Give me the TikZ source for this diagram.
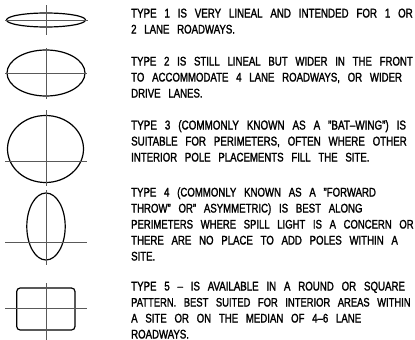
\documentclass[tikz,border=0pt]{standalone}
\usepackage{fontspec}
\setmainfont{Liberation Sans}[FakeStretch=0.77,WordSpace=2.9,FakeBold=1.6]
\begin{document}
\begin{tikzpicture}[x=1pt,y=-1pt,
  shp/.style={line width=1.2pt, black},
  axis/.style={line width=0.7pt, black!65},
  txt/.style={anchor=base west, inner sep=0pt, font=\fontsize{#1}{14}\selectfont},
  txt/.default=12.5]
\useasboundingbox (0,0) rectangle (415,340);
% Type 1
\draw[shp] (46,20) ellipse [x radius=39.5, y radius=7];
\draw[axis] (5,20) -- (88,20);
\draw[axis] (46,5) -- (46,35);
% Type 2
\draw[shp] (46,73) ellipse [x radius=39, y radius=23];
\draw[axis] (5,73) -- (87,73);
\draw[axis] (46,48) -- (46,99);
% Type 3
\draw[shp] (45.5,149) ellipse [x radius=38, y radius=33.5];
\draw[axis] (5,161.5) -- (87,161.5);
\draw[axis] (46,110) -- (46,186);
% Type 4
\draw[shp] (46,226.5) ellipse [x radius=19.2, y radius=33.5];
\draw[axis] (5,242.3) -- (87,242.3);
\draw[axis] (46,190) -- (46,265);
% Type 5
\draw[shp, rounded corners=3.5pt] (16.7,288) rectangle (75,330);
\draw[axis] (5,308.5) -- (87,308.5);
\draw[axis] (46,283) -- (46,340);
% Text
\node[txt=12.65] (t1) at (131,17.5) {TYPE 1 IS VERY LINEAL AND INTENDED FOR 1 OR};
\node[txt] (t2) at (131,33.5) {2 LANE ROADWAYS.};
\node[txt] (t3) at (131,65.5) {TYPE 2 IS STILL LINEAL BUT WIDER IN THE FRONT};
\node[txt] (t4) at (131,81.5) {TO ACCOMMODATE 4 LANE ROADWAYS, OR WIDER};
\node[txt] (t5) at (131,97.5) {DRIVE LANES.};
\node[txt=12.8] (t6) at (131,129.5) {TYPE 3 (COMMONLY KNOWN AS A "BAT–WING") IS};
\node[txt=12.65] (t7) at (131,145.5) {SUITABLE FOR PERIMETERS, OFTEN WHERE OTHER};
\node[txt] (t8) at (131,161.5) {INTERIOR POLE PLACEMENTS FILL THE SITE.};
\node[txt] (t9) at (131,196.5) {TYPE 4 (COMMONLY KNOWN AS A "FORWARD};
\node[txt] (t10) at (131,212.5) {THROW" OR" ASYMMETRIC) IS BEST ALONG};
\node[txt=12.35] (t11) at (131,228.5) {PERIMETERS WHERE SPILL LIGHT IS A CONCERN OR};
\node[txt] (t12) at (131,244.5) {THERE ARE NO PLACE TO ADD POLES WITHIN A};
\node[txt] (t13) at (131,260.5) {SITE.};
\node[txt=12.6] (t14) at (131,290.5) {TYPE 5 – IS AVAILABLE IN A ROUND OR SQUARE};
\node[txt=12.2] (t15) at (131,306.5) {PATTERN. BEST SUITED FOR INTERIOR AREAS WITHIN};
\node[txt] (t16) at (131,322.5) {A SITE OR ON THE MEDIAN OF 4–6 LANE};
\node[txt] (t17) at (131,338.5) {ROADWAYS.};
\end{tikzpicture}
\end{document}
